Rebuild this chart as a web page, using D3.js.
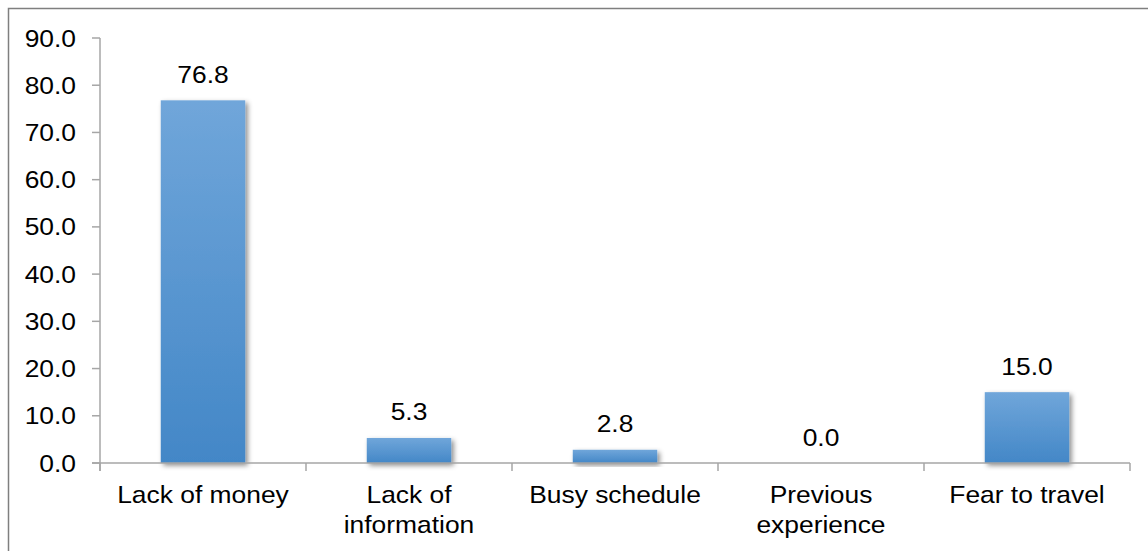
<!DOCTYPE html>
<html>
<head>
<meta charset="utf-8">
<script src="https://cdn.jsdelivr.net/npm/d3@7"></script>
<style>
  html, body { margin: 0; padding: 0; background: #fff; }
  svg { display: block; }
  text { font-family: "Liberation Sans", Arial, sans-serif; fill: #000; }
</style>
</head>
<body>
<svg id="chart" width="1148" height="551"></svg>
<script>
// Reasons for not travelling (%)
const categories = [["Lack of money"], ["Lack of", "information"], ["Busy schedule"], ["Previous", "experience"], ["Fear to travel"]];
const values = [76.8, 5.3, 2.8, 0.0, 15.0];
const yTicks = [0, 10, 20, 30, 40, 50, 60, 70, 80, 90];

const W = 1148, H = 551;
const plot = { left: 100, right: 1130, top: 38, bottom: 463 };
const fontSize = 24, stretch = 1.1;

const svg = d3.select("#chart");
const keys = categories.map(c => c.join(" "));

const x = d3.scaleBand().domain(keys).range([plot.left, plot.right]).padding(0);
const barFrac = 0.41;
const y = d3.scaleLinear().domain([0, 90]).range([plot.bottom, plot.top]);

// defs: bar gradient and soft drop shadow
const defs = svg.append("defs");
const grad = defs.append("linearGradient").attr("id", "barGrad")
  .attr("x1", 0).attr("y1", 0).attr("x2", 0).attr("y2", 1);
grad.append("stop").attr("offset", "0%").attr("stop-color", "#70a6da");
grad.append("stop").attr("offset", "100%").attr("stop-color", "#4387c7");
const shadow = defs.append("filter").attr("id", "shadow")
  .attr("x", "-20%").attr("y", "-20%").attr("width", "150%").attr("height", "150%");
shadow.append("feDropShadow").attr("dx", 2.5).attr("dy", 2.5)
  .attr("stdDeviation", 2.5).attr("flood-color", "#000").attr("flood-opacity", 0.45);

// outer chart frame
svg.append("rect").attr("x", 8.5).attr("y", 8.5).attr("width", W + 20).attr("height", H + 20)
  .attr("fill", "#fff").attr("stroke", "#7f7f7f").attr("stroke-width", 1.5);

function label(g, tx, ty, str, anchor) {
  g.append("g").attr("transform", `translate(${tx},${ty}) scale(${stretch},1)`)
    .append("text").attr("text-anchor", anchor).attr("font-size", fontSize).text(str);
}

// bars
const barW = x.bandwidth() * barFrac;
svg.append("g").selectAll("rect").data(values).join("rect")
  .attr("x", (d, i) => x(keys[i]) + (x.bandwidth() - barW) / 2)
  .attr("y", d => y(d))
  .attr("width", barW)
  .attr("height", d => y(0) - y(d))
  .attr("fill", "url(#barGrad)")
  .attr("filter", "url(#shadow)");

// axes
const axisColor = "#a6a6a6";
const ax = svg.append("g").attr("stroke", axisColor).attr("stroke-width", 1.5).attr("fill", "none");
ax.append("line").attr("x1", plot.left).attr("x2", plot.left).attr("y1", y(90)).attr("y2", y(0) + 8);
ax.append("line").attr("x1", plot.left - 8).attr("x2", plot.right).attr("y1", y(0)).attr("y2", y(0));
ax.selectAll(".yt").data(yTicks).join("line")
  .attr("x1", plot.left - 8).attr("x2", plot.left).attr("y1", d => y(d)).attr("y2", d => y(d));
const bounds = keys.map(k => x(k)).concat([x(keys[keys.length - 1]) + x.bandwidth()]);
ax.selectAll(".xt").data(bounds).join("line")
  .attr("x1", d => d).attr("x2", d => d).attr("y1", y(0)).attr("y2", y(0) + 8);

// y tick labels
const yl = svg.append("g");
yTicks.forEach(t => label(yl, 76, y(t) + 8.5, d3.format(".1f")(t), "end"));

// category labels
const xl = svg.append("g");
categories.forEach((lines, i) => {
  const cx = x(keys[i]) + x.bandwidth() / 2;
  lines.forEach((ln, j) => label(xl, cx, 503 + j * 30, ln, "middle"));
});

// value labels
const vl = svg.append("g");
values.forEach((v, i) => {
  const cx = x(keys[i]) + x.bandwidth() / 2;
  label(vl, cx, y(v) - 17.5, d3.format(".1f")(v), "middle");
});
</script>
</body>
</html>
